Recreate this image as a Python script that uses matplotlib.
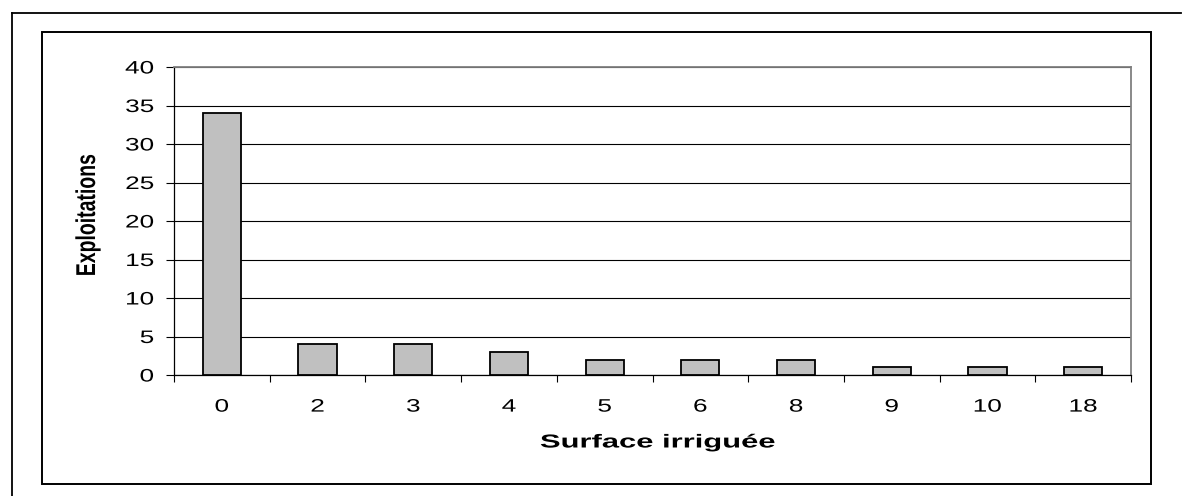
import matplotlib
matplotlib.use("Agg")
import matplotlib.pyplot as plt
from matplotlib.patches import Rectangle
from matplotlib.lines import Line2D
from matplotlib.patheffects import AbstractPathEffect
from matplotlib.transforms import Affine2D
import numpy as np

plt.rcParams['font.family'] = ['Liberation Sans', 'DejaVu Sans']

categories = ["0", "2", "3", "4", "5", "6", "8", "9", "10", "18"]
exploitations = [34, 4, 4, 3, 2, 2, 2, 1, 1, 1]
y_ticks = [0, 5, 10, 15, 20, 25, 30, 35, 40]


class WideText(AbstractPathEffect):
    """Draw text glyphs widened horizontally about a chosen anchor."""

    def __init__(self, sx, anchor="center"):
        super().__init__()
        self.sx = sx
        self.anchor = anchor

    def draw_path(self, renderer, gc, tpath, affine, rgbFace=None):
        ext = tpath.get_extents(affine)
        if self.anchor == "right":
            x0 = ext.x1
        elif self.anchor == "left":
            x0 = ext.x0
        else:
            x0 = 0.5 * (ext.x0 + ext.x1)
        widen = Affine2D().translate(-x0, 0).scale(self.sx, 1.0).translate(x0, 0)
        renderer.draw_path(gc, tpath, affine + widen, rgbFace)


W, H = 1184, 496
fig = plt.figure(figsize=(W / 100, H / 100), dpi=100)

# page rules (top and left)
fig.add_artist(Line2D([12 / W, 1181 / W], [1 - 13 / H, 1 - 13 / H], color="black", lw=1.3))
fig.add_artist(Line2D([12 / W, 12 / W], [0, 1 - 13 / H], color="black", lw=1.3))
# chart frame
fig.add_artist(Rectangle((42 / W, 1 - 484 / H), (1151 - 42) / W, (484 - 32) / H,
                         fill=False, edgecolor="black", lw=1.4))

ax = fig.add_axes([174 / W, 1 - 375 / H, (1131 - 174) / W, (375 - 67) / H])
x = np.arange(len(categories))
ax.bar(x, exploitations, width=0.4, color="#c0c0c0", edgecolor="black", linewidth=1.3, zorder=3)

ax.set_xlim(-0.5, len(categories) - 0.5)
ax.set_ylim(0, 40)
ax.set_yticks(y_ticks)
ax.set_yticklabels([str(v) for v in y_ticks], fontsize=13)
ax.set_xticks(x)
ax.set_xticklabels(categories, fontsize=13)
ax.set_xticks(np.arange(-0.5, len(categories), 1.0), minor=True)
ax.tick_params(axis="x", which="major", length=0, pad=17)
ax.tick_params(axis="x", which="minor", length=5, width=0.8, direction="out")
ax.tick_params(axis="y", length=6, width=0.8, direction="out", pad=8.5)

for lab in ax.get_yticklabels():
    lab.set_path_effects([WideText(1.45, "right")])
for lab in ax.get_xticklabels():
    lab.set_path_effects([WideText(1.45, "center")])

ax.yaxis.grid(True, color="black", lw=0.8, zorder=0)
ax.set_axisbelow(True)
for s in ("top", "right"):
    ax.spines[s].set_color("#808080")
    ax.spines[s].set_linewidth(1.3)
for s in ("left", "bottom"):
    ax.spines[s].set_color("black")
    ax.spines[s].set_linewidth(0.9)

ax.set_xlabel("Surface irriguée", fontsize=13.5, fontweight="bold",
              path_effects=[WideText(1.65, "center")])
ax.xaxis.set_label_coords((657.5 - 174) / 957, (375 - 434.5) / 308)
ax.xaxis.label.set_va("top")

ax.set_ylabel("Exploitations", fontsize=14, fontweight="bold",
              path_effects=[WideText(1.4, "center")])
ax.yaxis.set_label_coords((88.5 - 174) / 957, (375 - 215) / 308)
ax.yaxis.label.set_ha("center")
ax.yaxis.label.set_va("center")

fig.savefig("out.png", dpi=100)
